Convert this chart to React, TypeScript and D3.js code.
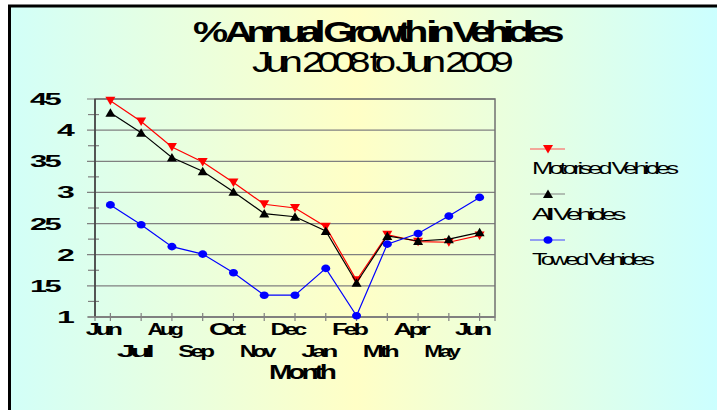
import React from "react";
import * as d3 from "d3";

const months = ["Jun", "Jul", "Aug", "Sep", "Oct", "Nov", "Dec", "Jan", "Feb", "Mth", "Apr", "May", "Jun2"];
const monthLabels = ["Jun", "Jul", "Aug", "Sep", "Oct", "Nov", "Dec", "Jan", "Feb", "Mth", "Apr", "May", "Jun"];
const motorised = [4.47, 4.14, 3.73, 3.49, 3.16, 2.81, 2.75, 2.45, 1.59, 2.32, 2.21, 2.2, 2.31];
const allVehicles = [4.28, 3.96, 3.56, 3.34, 3.01, 2.66, 2.61, 2.38, 1.55, 2.3, 2.22, 2.25, 2.36];
const towed = [2.8, 2.48, 2.13, 2.01, 1.71, 1.35, 1.35, 1.78, 1.02, 2.17, 2.34, 2.62, 2.92];
const yTicks = [1, 1.5, 2, 2.5, 3, 3.5, 4, 4.5];
const yTickLabels = ["1", "15", "2", "25", "3", "35", "4", "45"];
const yMinor = [1.25, 1.75, 2.25, 2.75, 3.25, 3.75, 4.25];

const seriesNames = ["Motorised Vehicles", "All Vehicles", "Towed Vehicles"];

const W = 717, H = 410;
const PL = 95, PR = 495, PT = 99, PB = 317;

export default function App() {
  const x = d3.scaleBand<string>().domain(months).range([PL, PR]);
  const xc = (i: number) => (x(months[i]) as number) + x.bandwidth() / 2;
  const y = d3.scaleLinear().domain([1, 4.5]).range([PB, PT]);
  const line = (vals: number[]) =>
    d3.line<number>().x((_, i) => xc(i)).y((v) => y(v))(vals) as string;

  const tri = (cx: number, cy: number, down: boolean, s = 5) =>
    down
      ? `M${cx - s},${cy - s * 0.8}L${cx + s},${cy - s * 0.8}L${cx},${cy + s * 0.9}Z`
      : `M${cx - s},${cy + s * 0.8}L${cx + s},${cy + s * 0.8}L${cx},${cy - s * 0.9}Z`;

  const series = [
    { vals: motorised, color: "#ff0000", legendColor: "#ff5050", marker: "down" },
    { vals: allVehicles, color: "#000000", legendColor: "#808080", marker: "up" },
    { vals: towed, color: "#0000ff", legendColor: "#4040ff", marker: "circle" },
  ];

  const marker = (m: string, cx: number, cy: number, color: string, key: any) =>
    m === "circle" ? (
      <ellipse key={key} cx={cx} cy={cy} rx={4.5} ry={3.8} fill={color} />
    ) : (
      <path key={key} d={tri(cx, cy, m === "down")} fill={color} />
    );

  const legendY = [149, 194, 240];
  const legendTextY = [174, 220, 265];
  const legendW = [143, 90, 119];

  return (
    <div style={{ position: "fixed", left: 0, top: 0 }}>
      <svg width={W} height={H} style={{ display: "block" }} fontFamily="'Liberation Sans', Arial, sans-serif">
        <defs>
          <linearGradient id="bg" x1="0" x2="1" y1="0" y2="0">
            <stop offset="0" stopColor="#d2fff8" />
            <stop offset="0.49" stopColor="#ffffc6" />
            <stop offset="1" stopColor="#ccffff" />
          </linearGradient>
        </defs>
        <rect x={0} y={0} width={W} height={H} fill="#ffffff" />
        <rect x={9} y={6} width={W - 9} height={H - 6} fill="url(#bg)" />
        <line x1={9.5} x2={9.5} y1={5} y2={H} stroke="#000" strokeWidth={3} />
        <line x1={8} x2={W} y1={6} y2={6} stroke="#000" strokeWidth={3} />

        {/* title */}
        <text x={193} y={42} fontSize={30} fontWeight="bold" letterSpacing={-5} textLength={365} lengthAdjust="spacingAndGlyphs">
          % Annual Growth in Vehicles
        </text>
        <text x={252} y={72} fontSize={30} letterSpacing={-4.5} textLength={256} lengthAdjust="spacingAndGlyphs">
          Jun 2008 to Jun 2009
        </text>

        {/* gridlines */}
        {yTicks.map((t) => (
          <line key={"g" + t} x1={87} x2={PR} y1={y(t)} y2={y(t)} stroke="#808080" strokeWidth={1.2} />
        ))}
        {yMinor.map((t) => (
          <line key={"m" + t} x1={88} x2={99} y1={y(t)} y2={y(t)} stroke="#808080" strokeWidth={1.2} />
        ))}
        {/* plot border */}
        <rect x={PL} y={PT} width={PR - PL} height={PB - PT} fill="none" stroke="#707070" strokeWidth={1.5} />
        <line x1={PL} x2={PL} y1={PT} y2={PB} stroke="#404040" strokeWidth={1.5} />
        {/* x ticks */}
        {months.map((m, i) => (
          <line key={"xt" + m} x1={xc(i)} x2={xc(i)} y1={PB - 4} y2={PB + 4} stroke="#808080" strokeWidth={1.2} />
        ))}
        <line x1={PL} x2={PL} y1={PB} y2={PB + 4} stroke="#808080" strokeWidth={1.2} />
        <line x1={PR} x2={PR} y1={PB} y2={PB + 4} stroke="#808080" strokeWidth={1.2} />
        <line x1={88} x2={PR} y1={PB} y2={PB} stroke="#808080" strokeWidth={1.5} />

        {/* y labels */}
        {yTicks.map((t, i) => {
          const lab = yTickLabels[i];
          const two = lab.length > 1;
          const w = two ? 29 : 15;
          const xe = two ? 59 : 72;
          return (
            <text key={"yl" + t} x={xe - w} y={y(t) + 6} fontSize={17} fontWeight="bold" letterSpacing={-1.5} textLength={w} lengthAdjust="spacingAndGlyphs">
              {lab}
            </text>
          );
        })}

        {/* x labels */}
        {monthLabels.map((m, i) => (
          <text key={"xl" + i} x={xc(i) - 8 - 16.5} y={i % 2 === 0 ? 335 : 357} fontSize={16} fontWeight="bold" letterSpacing={-2.5} textLength={33} lengthAdjust="spacingAndGlyphs">
            {m}
          </text>
        ))}
        <text x={269} y={379} fontSize={21} fontWeight="bold" letterSpacing={-3} textLength={64} lengthAdjust="spacingAndGlyphs">
          Month
        </text>

        {/* series */}
        {series.map((s, si) => (
          <g key={"s" + si}>
            <path d={line(s.vals)} fill="none" stroke={s.color} strokeWidth={1.2} />
            {s.vals.map((v, i) => marker(s.marker, xc(i), y(v), s.color, i))}
          </g>
        ))}

        {/* legend */}
        {series.map((s, si) => (
          <g key={"l" + si}>
            <line x1={530} x2={565} y1={legendY[si]} y2={legendY[si]} stroke={s.legendColor} strokeWidth={1.2} />
            {marker(s.marker, 548, legendY[si], s.color, "lm")}
            <text x={532} y={legendTextY[si]} fontSize={16} letterSpacing={-2.5} textLength={legendW[si]} lengthAdjust="spacingAndGlyphs">
              {seriesNames[si]}
            </text>
          </g>
        ))}
      </svg>
    </div>
  );
}
